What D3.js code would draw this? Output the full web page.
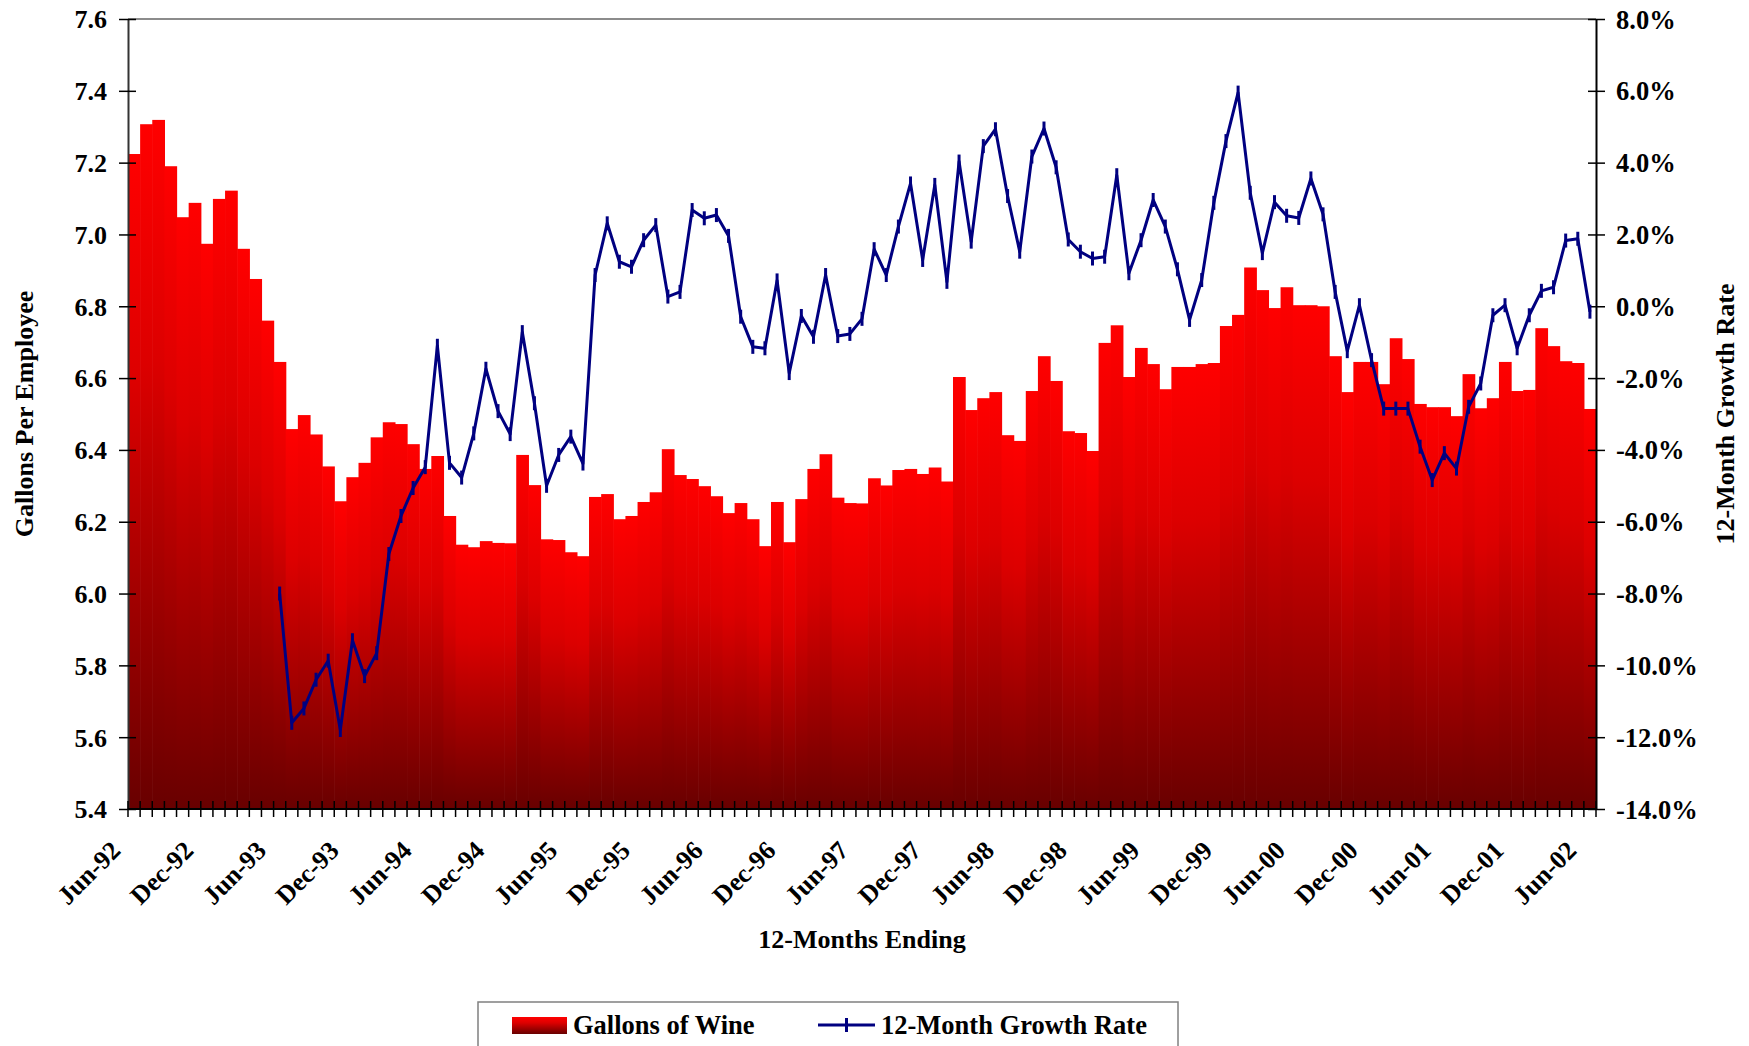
<!DOCTYPE html>
<html>
<head>
<meta charset="utf-8">
<script src="https://cdn.jsdelivr.net/npm/d3@7"></script>
<style>
  body { margin: 0; background: #fff; }
  text { font-family: "Liberation Serif", "Times New Roman", serif; font-weight: bold; fill: #000; }
</style>
</head>
<body>
<svg id="chart" width="1749" height="1046"></svg>
<script>
// months Jun-92 .. Jun-02
const months = d3.timeMonth.range(new Date(1992, 5, 1), new Date(2002, 6, 1));
const tick_labels = ["Jun-92","Dec-92","Jun-93","Dec-93","Jun-94","Dec-94","Jun-95","Dec-95",
  "Jun-96","Dec-96","Jun-97","Dec-97","Jun-98","Dec-98","Jun-99","Dec-99","Jun-00","Dec-00",
  "Jun-01","Dec-01","Jun-02"];

// gallons of wine per employee, 12 months ending
const gallons = [
  7.224, 7.307, 7.319, 7.190, 7.048, 7.088, 6.974, 7.099, 7.122, 6.960, 6.876, 6.760,
  6.645, 6.458, 6.497, 6.443, 6.354, 6.257, 6.324, 6.364, 6.435, 6.477, 6.472, 6.416,
  6.347, 6.383, 6.216, 6.136, 6.129, 6.146, 6.141, 6.140, 6.386, 6.302, 6.151, 6.149,
  6.115, 6.104, 6.269, 6.277, 6.207, 6.216, 6.255, 6.282, 6.402, 6.330, 6.319, 6.299,
  6.271, 6.224, 6.252, 6.207, 6.132, 6.255, 6.143, 6.263, 6.347, 6.388, 6.267, 6.252,
  6.251, 6.321, 6.301, 6.344, 6.347, 6.333, 6.351, 6.312, 6.603, 6.511, 6.544, 6.561,
  6.441, 6.425, 6.564, 6.661, 6.592, 6.452, 6.447, 6.397, 6.698, 6.747, 6.603, 6.684,
  6.639, 6.569, 6.631, 6.631, 6.639, 6.642, 6.745, 6.776, 6.908, 6.845, 6.795, 6.853,
  6.803, 6.803, 6.800, 6.661, 6.561, 6.645, 6.645, 6.583, 6.711, 6.653, 6.528, 6.519,
  6.519, 6.494, 6.611, 6.516, 6.544, 6.645, 6.564, 6.567, 6.739, 6.689, 6.647, 6.642,
  6.514
];

// 12-month growth rate (%), starts Jun-93
const growth = [
  null, null, null, null, null, null, null, null, null, null, null, null,
  -8.0, -11.6, -11.2, -10.4, -9.87, -11.8, -9.3, -10.3, -9.66, -6.9, -5.84, -5.06,
  -4.48, -1.1, -4.36, -4.77, -3.54, -1.74, -2.92, -3.56, -0.72, -2.7, -5.0, -4.14,
  -3.63, -4.38, 0.87, 2.31, 1.24, 1.1, 1.84, 2.26, 0.27, 0.4, 2.68, 2.45,
  2.54, 1.96, -0.29, -1.13, -1.17, 0.72, -1.86, -0.27, -0.85, 0.87, -0.83, -0.77,
  -0.35, 1.59, 0.87, 2.22, 3.42, 1.29, 3.38, 0.68, 4.03, 1.8, 4.46, 4.93,
  3.07, 1.52, 4.17, 4.95, 3.87, 1.86, 1.52, 1.33, 1.38, 3.65, 0.92, 1.84,
  2.96, 2.22, 1.03, -0.38, 0.73, 2.88, 4.6, 5.95, 3.16, 1.48, 2.9, 2.52,
  2.46, 3.56, 2.56, 0.4, -1.25, 0.03, -1.5, -2.85, -2.85, -2.85, -3.91, -4.84,
  -4.09, -4.52, -2.8, -2.15, -0.25, 0.03, -1.17, -0.25, 0.43, 0.53, 1.83, 1.88,
  -0.15
];

const svg = d3.select("#chart");
const fmt = d3.timeFormat("%b-%y");
const plot = { left: 128, right: 1596, top: 19, bottom: 809 };

const x = d3.scaleBand().domain(months.map(fmt)).range([plot.left, plot.right]).padding(0);
const y_left = d3.scaleLinear().domain([5.4, 7.6]).range([plot.bottom, plot.top]);
const y_right = d3.scaleLinear().domain([-14, 8]).range([plot.bottom, plot.top]);
const bw = x.bandwidth();

// bar gradient, bright red on top, dark red at the base of each bar
const defs = svg.append("defs");
const grad = defs.append("linearGradient").attr("id", "bar_grad")
  .attr("x1", 0).attr("y1", 0).attr("x2", 0).attr("y2", 1);
grad.append("stop").attr("offset", "0%").attr("stop-color", "#ff0000");
grad.append("stop").attr("offset", "35%").attr("stop-color", "#dc0000");
grad.append("stop").attr("offset", "100%").attr("stop-color", "#680000");

// plot border (top edge is gray in the original)
svg.append("line").attr("x1", plot.left).attr("x2", plot.right)
  .attr("y1", plot.top).attr("y2", plot.top)
  .attr("stroke", "#8c8c8c").attr("stroke-width", 2);

// bars
svg.append("g")
  .selectAll("rect")
  .data(gallons)
  .join("rect")
  .attr("x", (d, i) => x(fmt(months[i])))
  .attr("y", d => y_left(d))
  .attr("width", bw + 0.6)
  .attr("height", d => plot.bottom - y_left(d))
  .attr("fill", "url(#bar_grad)");

// left axis
const ax_left = svg.append("g")
  .attr("transform", `translate(${plot.left},0)`)
  .call(d3.axisLeft(y_left).ticks(11).tickFormat(d3.format(".1f"))
    .tickSizeInner(9).tickSizeOuter(0).tickPadding(12));
ax_left.select(".domain").attr("stroke", "#333").attr("stroke-width", 2);
ax_left.selectAll(".tick line").attr("x1", 8).attr("stroke", "#000").attr("stroke-width", 1.5);
ax_left.selectAll(".tick text").style("font-size", "26px").attr("dy", "0.34em");

// right axis
const ax_right = svg.append("g")
  .attr("transform", `translate(${plot.right},0)`)
  .call(d3.axisRight(y_right).ticks(11).tickFormat(d => d.toFixed(1) + "%")
    .tickSizeInner(9).tickSizeOuter(0).tickPadding(11));
ax_right.select(".domain").attr("stroke", "#000").attr("stroke-width", 2);
ax_right.selectAll(".tick line").attr("x1", -8).attr("stroke", "#000").attr("stroke-width", 1.5);
ax_right.selectAll(".tick text").style("font-size", "26.5px").attr("dy", "0.34em");

// bottom axis with a tick at every category boundary
svg.append("line").attr("x1", plot.left).attr("x2", plot.right)
  .attr("y1", plot.bottom).attr("y2", plot.bottom)
  .attr("stroke", "#000").attr("stroke-width", 2);
const bounds = months.map(m => x(fmt(m))).concat([plot.right]);
svg.append("g")
  .selectAll("line")
  .data(bounds)
  .join("line")
  .attr("x1", d => d).attr("x2", d => d)
  .attr("y1", plot.bottom - 8).attr("y2", plot.bottom + 8)
  .attr("stroke", "#000").attr("stroke-width", 1.5);

svg.append("g")
  .selectAll("text")
  .data(tick_labels)
  .join("text")
  .attr("transform", d => `translate(${x(d) + bw / 2 - 12},${plot.bottom + 43}) rotate(-45)`)
  .attr("text-anchor", "end")
  .style("font-size", "26px")
  .text(d => d);

// growth line
const line = d3.line()
  .defined(d => d != null)
  .x((d, i) => x(fmt(months[i])) + bw / 2)
  .y(d => y_right(d));

svg.append("path")
  .datum(growth)
  .attr("d", line)
  .attr("fill", "none")
  .attr("stroke", "#000080")
  .attr("stroke-width", 3)
  .attr("stroke-linejoin", "round");

const pts = growth.map((d, i) => [i, d]).filter(p => p[1] != null);
svg.append("g")
  .selectAll("line")
  .data(pts)
  .join("line")
  .attr("x1", p => x(fmt(months[p[0]])) + bw / 2)
  .attr("x2", p => x(fmt(months[p[0]])) + bw / 2)
  .attr("y1", p => y_right(p[1]) - 7)
  .attr("y2", p => y_right(p[1]) + 7)
  .attr("stroke", "#000080")
  .attr("stroke-width", 3);

// axis titles
svg.append("text")
  .attr("transform", `translate(33,${(plot.top + plot.bottom) / 2}) rotate(-90)`)
  .attr("text-anchor", "middle")
  .style("font-size", "26px")
  .text("Gallons Per Employee");

svg.append("text")
  .attr("transform", `translate(1734,${(plot.top + plot.bottom) / 2}) rotate(-90)`)
  .attr("text-anchor", "middle")
  .style("font-size", "26px")
  .text("12-Month Growth Rate");

svg.append("text")
  .attr("x", (plot.left + plot.right) / 2)
  .attr("y", 948)
  .attr("text-anchor", "middle")
  .style("font-size", "26px")
  .text("12-Months Ending");

// legend
const legend = svg.append("g");
legend.append("rect")
  .attr("x", 478).attr("y", 1002).attr("width", 700).attr("height", 70)
  .attr("fill", "#fff").attr("stroke", "#808080").attr("stroke-width", 1.5);
legend.append("rect")
  .attr("x", 512).attr("y", 1017).attr("width", 55).attr("height", 17)
  .attr("fill", "url(#bar_grad)");
legend.append("text").attr("x", 573).attr("y", 1034).style("font-size", "26.5px").text("Gallons of Wine");
legend.append("line")
  .attr("x1", 818).attr("x2", 875).attr("y1", 1025).attr("y2", 1025)
  .attr("stroke", "#000080").attr("stroke-width", 3);
legend.append("line")
  .attr("x1", 846.5).attr("x2", 846.5).attr("y1", 1018).attr("y2", 1032)
  .attr("stroke", "#000080").attr("stroke-width", 3);
legend.append("text").attr("x", 881).attr("y", 1034).style("font-size", "26.5px").text("12-Month Growth Rate");
</script>
</body>
</html>
